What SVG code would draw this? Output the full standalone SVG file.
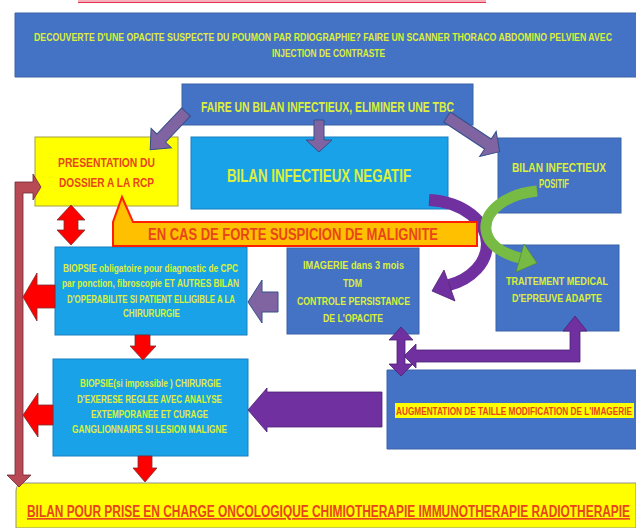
<svg xmlns="http://www.w3.org/2000/svg" width="636" height="528" viewBox="0 0 636 528">
<style>
.blue{fill:#4472c4;stroke:#3a62a8;stroke-width:1}
.lblue{fill:#19a2e8;stroke:#1a7fc0;stroke-width:1}
.t{font-family:"Liberation Sans",Arial,sans-serif;font-weight:bold;fill:#dcef3c}
.r{font-family:"Liberation Sans",Arial,sans-serif;font-weight:bold;fill:#e8461a}
.lp{fill:#8064a2;stroke:#34508c;stroke-width:1}
.dp{fill:#7030a0;stroke:#4d2274;stroke-width:0.8}
.red{fill:#ff0000;stroke:#7a3030;stroke-width:0.8}
.br{fill:#b84a55;stroke:#6e2a30;stroke-width:0.8}
</style>
<rect width="636" height="528" fill="#ffffff"/>
<rect x="78" y="0" width="408" height="3" fill="#f6b0bc"/>
<line x1="78" y1="2.5" x2="486" y2="2.5" stroke="#e83050" stroke-width="1"/>

<g id="top">
<path class="blue" d="M636 13 H15 V77 H636"/>
<text class="t" x="34" y="41" font-size="11" textLength="578" lengthAdjust="spacingAndGlyphs">DECOUVERTE D'UNE OPACITE SUSPECTE DU POUMON PAR RDIOGRAPHIE? FAIRE UN SCANNER THORACO ABDOMINO PELVIEN AVEC</text>
<text class="t" x="272" y="57" font-size="11" textLength="113" lengthAdjust="spacingAndGlyphs">INJECTION DE CONTRASTE</text>
</g>

<g id="bilan">
<rect class="blue" x="182" y="84" width="291" height="41"/>
<text class="t" x="201" y="112" font-size="14" textLength="253" lengthAdjust="spacingAndGlyphs">FAIRE UN BILAN INFECTIEUX, ELIMINER UNE TBC</text>
</g>

<g id="rcp">
<rect x="35" y="137" width="143" height="69" fill="#ffff00" stroke="#a0a040" stroke-width="1"/>
<text class="r" x="58" y="167" font-size="12.5" textLength="97" lengthAdjust="spacingAndGlyphs">PRESENTATION  DU</text>
<text class="r" x="59" y="187" font-size="12.5" textLength="95" lengthAdjust="spacingAndGlyphs">DOSSIER A LA RCP</text>
</g>

<g id="negatif">
<rect class="lblue" x="191" y="137" width="257" height="72"/>
<text class="t" x="227" y="182" font-size="19" textLength="184" lengthAdjust="spacingAndGlyphs">BILAN INFECTIEUX NEGATIF</text>
</g>

<g id="positif">
<rect class="blue" x="498" y="138" width="123" height="75"/>
<text class="t" x="512" y="172" font-size="13.5" textLength="94" lengthAdjust="spacingAndGlyphs">BILAN INFECTIEUX</text>
<text class="t" x="539" y="188" font-size="13.5" textLength="30" lengthAdjust="spacingAndGlyphs">POSITIF</text>
</g>

<g id="biopsie1">
<rect class="lblue" x="55" y="247" width="192" height="88"/>
<text class="t" x="63" y="272" font-size="10.5" textLength="175" lengthAdjust="spacingAndGlyphs">BIOPSIE obligatoire pour diagnostic de CPC</text>
<text class="t" x="62" y="287" font-size="10.5" textLength="177" lengthAdjust="spacingAndGlyphs">par ponction, fibroscopie ET AUTRES BILAN</text>
<text class="t" x="67" y="303" font-size="10.5" textLength="168" lengthAdjust="spacingAndGlyphs">D'OPERABILITE SI PATIENT ELLIGIBLE A LA</text>
<text class="t" x="123" y="317" font-size="10.5" textLength="57" lengthAdjust="spacingAndGlyphs">CHIRURURGIE</text>
</g>

<g id="imagerie">
<rect class="blue" x="287" y="248" width="132" height="86"/>
<text class="t" x="303" y="269" font-size="11.5" textLength="101" lengthAdjust="spacingAndGlyphs">IMAGERIE dans 3 mois</text>
<text class="t" x="343" y="287" font-size="11.5" textLength="19" lengthAdjust="spacingAndGlyphs">TDM</text>
<text class="t" x="297" y="305" font-size="11.5" textLength="113" lengthAdjust="spacingAndGlyphs">CONTROLE PERSISTANCE</text>
<text class="t" x="323" y="322" font-size="11.5" textLength="60" lengthAdjust="spacingAndGlyphs">DE L'OPACITE</text>
</g>

<g id="traitement">
<rect class="blue" x="496" y="245" width="123" height="86"/>
<text class="t" x="506" y="285" font-size="11.5" textLength="102" lengthAdjust="spacingAndGlyphs">TRAITEMENT MEDICAL</text>
<text class="t" x="512" y="302" font-size="11.5" textLength="90" lengthAdjust="spacingAndGlyphs">D'EPREUVE ADAPTE</text>
</g>

<g id="biopsie2">
<rect class="lblue" x="53" y="359" width="195" height="97"/>
<text class="t" x="80" y="387" font-size="10.5" textLength="141" lengthAdjust="spacingAndGlyphs">BIOPSIE(si impossible ) CHIRURGIE</text>
<text class="t" x="77" y="403" font-size="10.5" textLength="145" lengthAdjust="spacingAndGlyphs">D'EXERESE  REGLEE AVEC ANALYSE</text>
<text class="t" x="91" y="418" font-size="10.5" textLength="117" lengthAdjust="spacingAndGlyphs">EXTEMPORANEE ET CURAGE</text>
<text class="t" x="72" y="433" font-size="10.5" textLength="155" lengthAdjust="spacingAndGlyphs">GANGLIONNAIRE  SI LESION MALIGNE</text>
</g>

<g id="augmentation">
<path class="blue" d="M636 370 H387 V449 H636"/>
<rect x="395" y="403" width="239" height="15" fill="#ffff00"/>
<text class="r" x="396" y="415" font-size="10" textLength="236" lengthAdjust="spacingAndGlyphs">AUGMENTATION DE TAILLE MODIFICATION DE L'IMAGERIE</text>
</g>

<g id="oncologie">
<path d="M636 483 H24 Q16 483 16 491 V528 H636 Z" fill="#ffff00" stroke="#909090" stroke-width="1"/>
<text class="r" x="27" y="517" font-size="16.5" textLength="603" lengthAdjust="spacingAndGlyphs" text-decoration="underline">BILAN POUR PRISE EN CHARGE ONCOLOGIQUE CHIMIOTHERAPIE IMMUNOTHERAPIE RADIOTHERAPIE</text>
</g>

<g id="connectors">
<polygon class="lp" transform="translate(186,112) rotate(133.5)" points="0,-6 36,-6 36,-14 52,0 36,14 36,6 0,6"/>
<polygon class="lp" points="314,120 324,120 324,140 332,140 319,152 306,140 314,140"/>
<polygon class="lp" transform="translate(447,117) rotate(33.4)" points="0,-6 49,-6 49,-15 63,0 49,15 49,6 0,6"/>

<path d="M429 200 C464 202 487 222 487 244 C487 262 472 279 449 285" fill="none" stroke="#7030a0" stroke-width="12"/>
<polygon class="dp" points="432,291 444,270 455,301"/>
<path d="M537 191 C506 194 484 211 486 230 C488 246 505 254 520 258" fill="none" stroke="#77bb44" stroke-width="11"/>
<polygon fill="#77bb44" stroke="#4f8a2c" stroke-width="0.6" points="537,263 524,244 516,272"/>

<path d="M113 246 L113 222 L122 197 L133 222 L477 222 L477 246 Z" fill="#ffc000" stroke="#ff2000" stroke-width="2"/>
<text class="r" x="148" y="240" font-size="16.5" textLength="290" lengthAdjust="spacingAndGlyphs" fill="#e83c10">EN CAS DE FORTE SUSPICION DE MALIGNITE</text>

<polygon class="red" points="71,205 85,220 78,220 78,230 85,230 71,245 57,230 64,230 64,220 57,220"/>

<polygon class="br" points="15,182 33,182 33,174 41,187 33,200 33,193 23,193 23,475 31,475 19,487 7,475 15,475"/>

<polygon class="red" points="55,285 37,285 37,273 23,297 37,321 37,308 55,308"/>
<polygon class="red" points="53,405 38,405 38,393 23,415 38,437 38,425 53,425"/>
<polygon class="red" points="135,335 150,335 150,346 156,346 143,360 130,346 135,346"/>
<polygon class="red" points="138,456 152,456 152,468 157,468 145,482 133,468 138,468"/>

<polygon class="lp" points="278,292 262,292 262,280 248,302 262,323 262,312 278,312"/>
<polygon class="dp" points="382,392 267,392 267,388 248,410 267,432 267,427 382,427"/>

<polygon class="dp" points="404,356 416,344 416,350 570,350 570,331 563,331 575,316 587,331 580,331 580,362 416,362 416,368"/>
<polygon class="dp" points="401,327 413,340 405,340 405,364 413,364 401,376 389,364 397,364 397,340 389,340"/>
</g>
</svg>
